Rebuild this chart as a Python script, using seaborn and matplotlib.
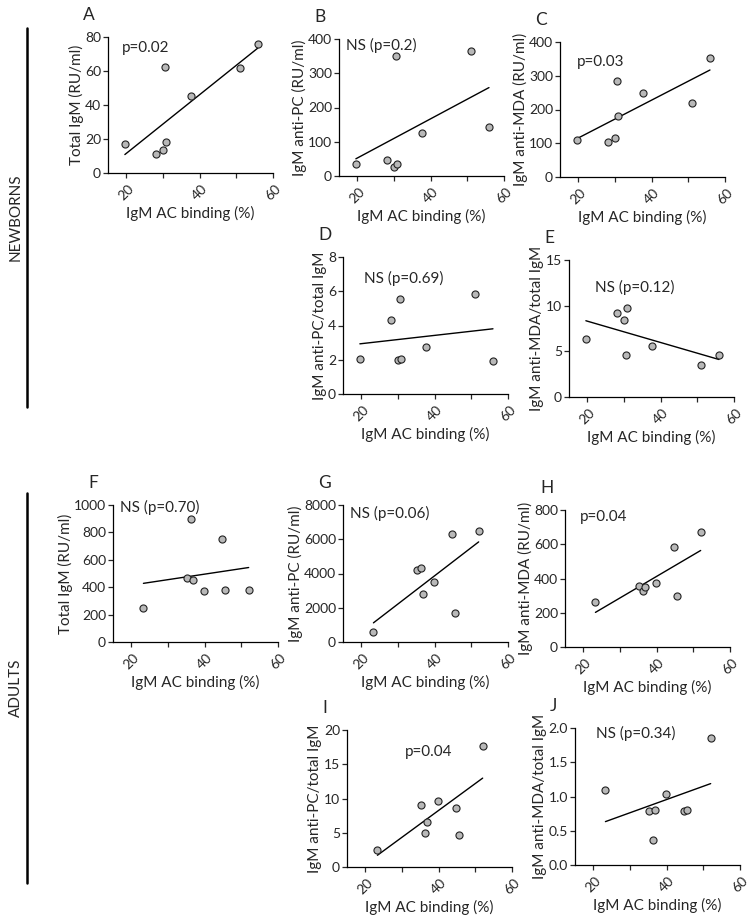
import numpy as np
import matplotlib
matplotlib.use("Agg")
import matplotlib.pyplot as plt
import seaborn as sns

# IgM AC binding (%) for the 8 newborns and the 8 adults
nb_x = [19.6, 28.0, 29.9, 30.7, 30.5, 37.6, 50.9, 55.9]
ad_x = [23.3, 35.2, 36.4, 36.8, 39.9, 44.6, 45.6, 52.0]

# newborns
nb_total = [17, 11, 13.5, 18, 62.5, 45, 62, 76]
nb_pc = [34, 47, 25, 36, 349, 125, 366, 143]
nb_mda = [110, 103, 115, 181, 283, 250, 220, 354]
nb_pc_ratio = [2.05, 4.3, 2.0, 2.02, 5.55, 2.76, 5.86, 1.95]
nb_mda_ratio = [6.37, 9.22, 8.45, 9.77, 4.57, 5.56, 3.5, 4.6]

# adults
ad_total = [246, 468, 895, 451, 373, 749, 380, 376]
ad_pc = [585, 4176, 4312, 2829, 3493, 6322, 1717, 6498]
ad_mda = [260, 359, 326, 353, 371, 585, 295, 673]
ad_pc_ratio = [2.5, 9.1, 4.9, 6.5, 9.7, 8.6, 4.7, 17.7]
ad_mda_ratio = [1.10, 0.79, 0.37, 0.80, 1.03, 0.79, 0.80, 1.85]

xlab = "IgM AC binding (%)"

sns.set_style("ticks")
plt.rcParams['font.family'] = ['Lato', 'DejaVu Sans']
plt.rcParams['font.size'] = 10

W, H = 755, 915
fig = plt.figure(figsize=(W / 100, H / 100), dpi=100)


def panel(box, x, y, ylabel, ymax, ystep, txt, txt_pos, letter, yfmt="{:g}"):
    l, t, r, b = box
    ax = fig.add_axes([l / W, 1 - b / H, (r - l) / W, (b - t) / H])
    sns.regplot(x=np.array(x), y=np.array(y), ax=ax, ci=None,
                scatter_kws=dict(s=26, color="#b8b8b8", edgecolor="#222222",
                                 linewidths=0.8, alpha=1, zorder=3),
                line_kws=dict(color="black", lw=1))
    ax.set_xlim(15, 60)
    ax.set_ylim(0, ymax)
    ax.set_xticks([20, 30, 40, 50, 60])
    ax.set_xticklabels(["20", "", "40", "", "60"], rotation=45)
    yt = np.arange(0, ymax + ystep / 2, ystep)
    ax.set_yticks(yt)
    ax.set_yticklabels([yfmt.format(v) for v in yt])
    ax.tick_params(labelsize=10, length=3.5, width=0.9, pad=1.5)
    ax.tick_params(axis="x", pad=3.5)
    ax.set_xlabel(xlab, fontsize=11, labelpad=2.5)
    ax.set_ylabel(ylabel, fontsize=11, labelpad=1)
    for s in ["left", "bottom"]:
        ax.spines[s].set_linewidth(0.9)
        ax.spines[s].set_color("black")
    sns.despine(ax=ax)
    ax.text(txt_pos[0], txt_pos[1], txt, transform=ax.transAxes,
            fontsize=11, va="center", ha="left")
    fig.text((l - 25) / W, 1 - (t - 22) / H, letter, fontsize=12.5,
             ha="left", va="center")
    return ax


panel((108, 37, 273, 173), nb_x, nb_total, "Total IgM (RU/ml)", 80, 20,
      "p=0.02", (0.085, 0.92), "A")
panel((339, 39, 504, 176), nb_x, nb_pc, "IgM anti-PC (RU/ml)", 400, 100,
      "NS (p=0.2)", (0.04, 0.95), "B")
panel((560, 42, 725, 177), nb_x, nb_mda, "IgM anti-MDA (RU/ml)", 400, 100,
      "p=0.03", (0.10, 0.85), "C")
panel((343, 257, 508, 394), nb_x, nb_pc_ratio, "IgM anti-PC/total IgM", 8, 2,
      "NS (p=0.69)", (0.13, 0.84), "D")
panel((569, 260, 734, 397), nb_x, nb_mda_ratio, "IgM anti-MDA/total IgM", 15, 5,
      "NS (p=0.12)", (0.16, 0.80), "E")

panel((113, 505, 278, 642), ad_x, ad_total, "Total IgM (RU/ml)", 1000, 200,
      "NS (p=0.70)", (0.04, 0.985), "F")
panel((343, 505, 508, 642), ad_x, ad_pc, "IgM anti-PC (RU/ml)", 8000, 2000,
      "NS (p=0.06)", (0.04, 0.94), "G")
panel((565, 510, 730, 647), ad_x, ad_mda, "IgM anti-MDA (RU/ml)", 800, 200,
      "p=0.04", (0.09, 0.95), "H")
panel((347, 730, 512, 867), ad_x, ad_pc_ratio, "IgM anti-PC/total IgM", 20, 5,
      "p=0.04", (0.35, 0.84), "I")
panel((575, 728, 740, 865), ad_x, ad_mda_ratio, "IgM anti-MDA/total IgM", 2.0, 0.5,
      "NS (p=0.34)", (0.13, 0.96), "J", yfmt="{:.1f}")

# group labels with vertical bars
for name, y0, y1 in [("NEWBORNS", 28, 407), ("ADULTS", 493, 883)]:
    fig.add_artist(plt.Line2D([27 / W, 27 / W], [1 - y0 / H, 1 - y1 / H],
                              color="black", lw=1.8))
    fig.text(16 / W, 1 - (y0 + y1) / 2 / H, name, rotation=90, fontsize=11,
             ha="center", va="center")

fig.savefig("out.png", dpi=100)
